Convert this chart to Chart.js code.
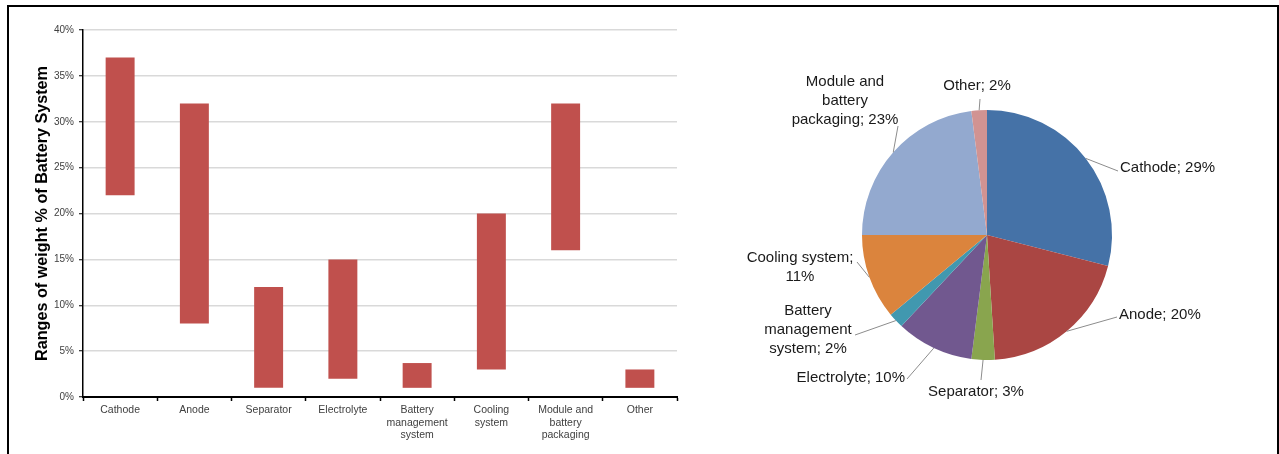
<!DOCTYPE html>
<html>
<head>
<meta charset="utf-8">
<script src="https://cdn.jsdelivr.net/npm/chart.js@4/dist/chart.umd.min.js"></script>
<style>
  body { margin: 0; background: #fff; width: 1279px; height: 454px; overflow: hidden; position: relative; }
  .frame { position: absolute; left: 7px; top: 5px; width: 1268px; height: 460px; border: 2px solid #000; border-bottom: none; }
  #ranges { position: absolute; left: 0; top: 0; }
  #shares { position: absolute; left: 700px; top: 8px; }
</style>
</head>
<body>
<div class="frame"></div>
<canvas id="ranges" width="700" height="454"></canvas>
<canvas id="shares" width="574" height="440"></canvas>
<script>
// categories and values
const categories = ['Cathode', 'Anode', 'Separator', 'Electrolyte', 'Battery management system', 'Cooling system', 'Module and battery packaging', 'Other']
const xTickLabels = [['Cathode'], ['Anode'], ['Separator'], ['Electrolyte'], ['Battery', 'management', 'system'], ['Cooling', 'system'], ['Module and', 'battery', 'packaging'], ['Other']]
const rangeLow = [22, 8, 1, 2, 1, 3, 16, 1]
const rangeHigh = [37, 32, 12, 15, 3.7, 20, 32, 3]
const yTicks = [0, 5, 10, 15, 20, 25, 30, 35, 40]

const pieShares = [29, 20, 3, 10, 2, 11, 23, 2]
const pieColors = ['#4572A7', '#AA4643', '#89A54E', '#71588F', '#4198AF', '#DB843D', '#93A9CF', '#D19392']
const pieLabelLines = [
    ['Cathode; ' + pieShares[0] + '%'],
    ['Anode; ' + pieShares[1] + '%'],
    ['Separator; ' + pieShares[2] + '%'],
    ['Electrolyte; ' + pieShares[3] + '%'],
    ['Battery', 'management', 'system; ' + pieShares[4] + '%'],
    ['Cooling system;', pieShares[5] + '%'],
    ['Module and', 'battery', 'packaging; ' + pieShares[6] + '%'],
    ['Other; ' + pieShares[7] + '%']
]

// where each label sits, relative to pie centre: text anchor, alignment, leader end
const labelPlacement = [
    { dx: 133, dy: -67, align: 'left', lx: 131, ly: -64 },
    { dx: 132, dy: 80, align: 'left', lx: 130, ly: 82 },
    { dx: -11, dy: 157, align: 'center', lx: -6, ly: 145 },
    { dx: -82, dy: 143, align: 'right', lx: -80, ly: 144 },
    { dx: -179, dy: 76, align: 'center', lx: -132, ly: 100 },
    { dx: -187, dy: 23, align: 'center', lx: -130, ly: 27 },
    { dx: -142, dy: -153, align: 'center', lx: -89, ly: -109 },
    { dx: -10, dy: -149, align: 'center', lx: -7, ly: -136 }
]

Chart.defaults.font.family = 'Arial, "Liberation Sans", Helvetica, sans-serif'
Chart.defaults.animation = false

//range chart
new Chart(document.getElementById('ranges'), {
    type: 'bar',
    data: {
        labels: xTickLabels,
        datasets: [{
            data: rangeLow.map((low, i) => [low, rangeHigh[i]]),
            backgroundColor: '#C0504D',
            borderWidth: 0,
            barPercentage: 0.39,
            categoryPercentage: 1
        }]
    },
    options: {
        responsive: false,
        layout: { padding: { top: 30, right: 23, left: 0, bottom: 0 } },
        plugins: { legend: { display: false }, tooltip: { enabled: false } },
        scales: {
            x: {
                grid: {
                    offset: true,
                    drawOnChartArea: false,
                    drawTicks: true,
                    tickLength: 4,
                    tickColor: '#000',
                    tickWidth: 1.5
                },
                border: { color: '#000', width: 2 },
                ticks: {
                    color: '#404040',
                    font: { size: 10.5 },
                    padding: 3,
                    maxRotation: 0,
                    autoSkip: false
                },
                afterFit: (scale) => { scale.height = 57 }
            },
            y: {
                min: 0,
                max: 40,
                afterBuildTicks: (scale) => { scale.ticks = yTicks.map(v => ({ value: v })) },
                grid: {
                    color: '#d9d9d9',
                    lineWidth: 1.5,
                    tickLength: 4,
                    tickColor: '#000',
                    tickWidth: 1
                },
                border: { color: '#000', width: 1.5 },
                ticks: {
                    color: '#404040',
                    font: { size: 10 },
                    padding: 5,
                    callback: (v) => v + '%'
                },
                title: {
                    display: true,
                    text: 'Ranges of weight % of Battery System',
                    color: '#000',
                    font: { size: 16.2, weight: 'bold' },
                    padding: { top: 33, bottom: 0 }
                },
                afterFit: (scale) => { scale.width = 83 }
            }
        }
    }
})

//pie labels with leader lines
const pieLabels = {
    id: 'pieLabels',
    afterDatasetsDraw(chart) {
        const ctx = chart.ctx
        const arcs = chart.getDatasetMeta(0).data
        ctx.save()
        ctx.font = '15px Arial, "Liberation Sans", sans-serif'
        ctx.textBaseline = 'middle'
        arcs.forEach((arc, i) => {
            const p = labelPlacement[i]
            const mid = (arc.startAngle + arc.endAngle) / 2
            const sx = arc.x + Math.cos(mid) * arc.outerRadius
            const sy = arc.y + Math.sin(mid) * arc.outerRadius
            ctx.strokeStyle = '#8c8c8c'
            ctx.lineWidth = 1
            ctx.beginPath()
            ctx.moveTo(sx, sy)
            ctx.lineTo(arc.x + p.lx, arc.y + p.ly)
            ctx.stroke()

            ctx.fillStyle = '#1a1a1a'
            ctx.textAlign = p.align
            pieLabelLines[i].forEach((line, j) => {
                ctx.fillText(line, arc.x + p.dx, arc.y + p.dy + j * 19)
            })
        })
        ctx.restore()
    }
}

new Chart(document.getElementById('shares'), {
    type: 'pie',
    data: {
        labels: categories,
        datasets: [{
            data: pieShares,
            backgroundColor: pieColors,
            borderWidth: 0
        }]
    },
    options: {
        responsive: false,
        layout: { padding: { top: 102, bottom: 88, left: 0, right: 0 } },
        plugins: { legend: { display: false }, tooltip: { enabled: false } }
    },
    plugins: [pieLabels]
})
</script>
</body>
</html>
